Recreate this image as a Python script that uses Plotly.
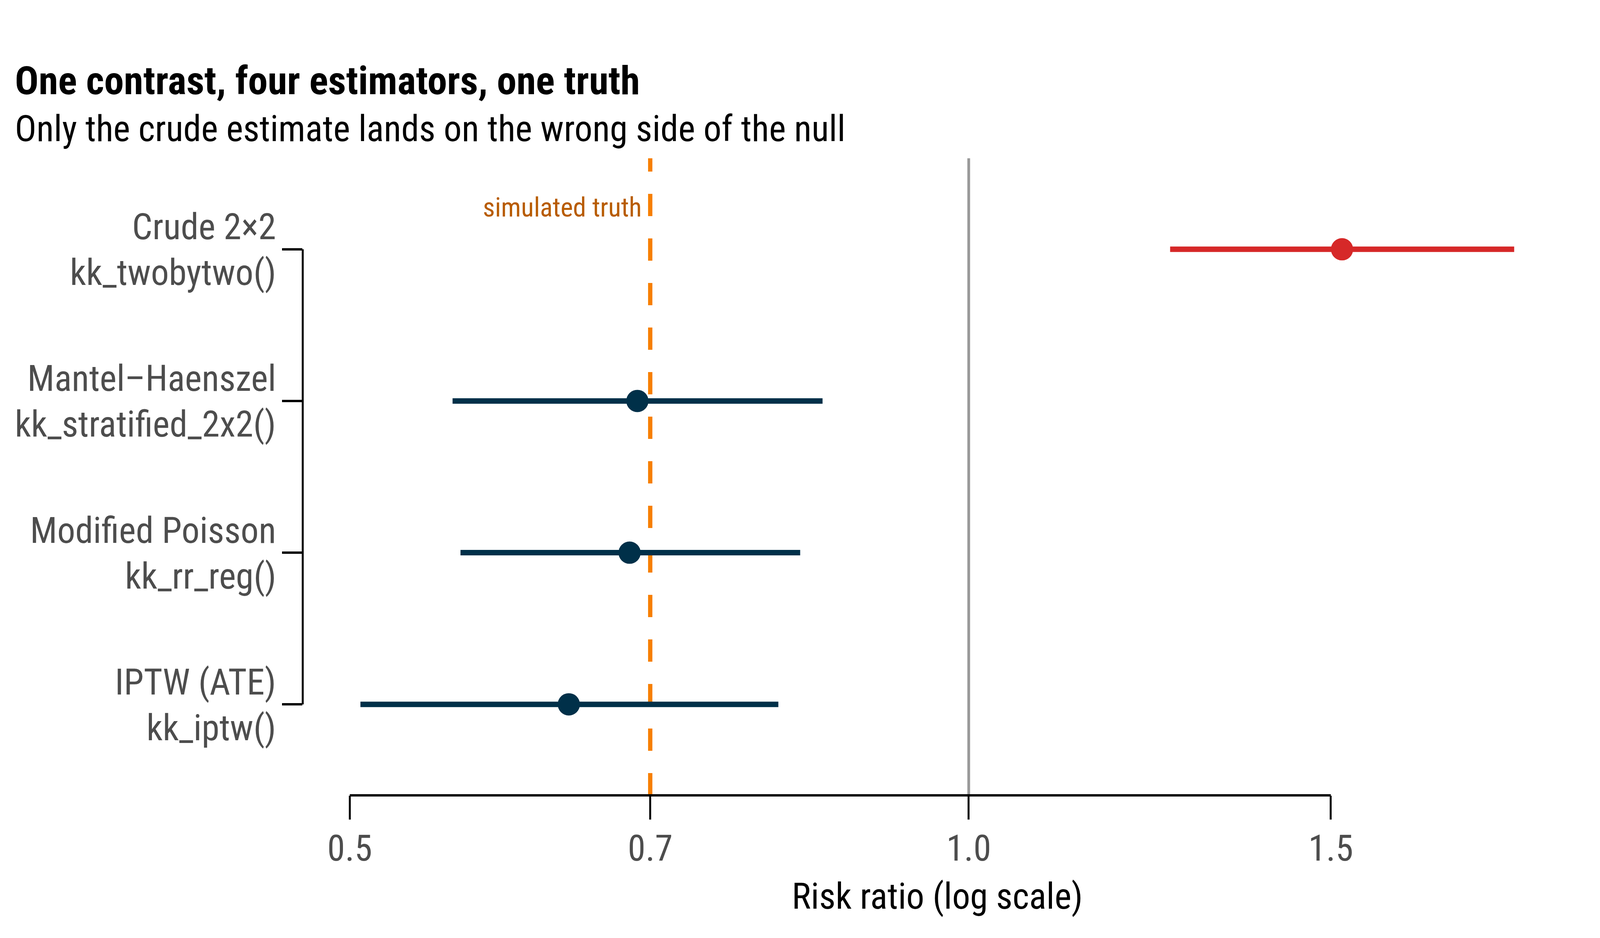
import numpy as np
import plotly.graph_objects as go

# =======================
# Dati
# =======================

estimators = ["Crude 2×2", "Mantel–Haenszel", "Modified Poisson", "IPTW (ATE)"]
functions = ["kk_twobytwo()", "kk_stratified_2x2()", "kk_rr_reg()", "kk_iptw()"]
rr = [1.519, 0.690, 0.684, 0.639]
rr_lo = [1.253, 0.561, 0.566, 0.506]
rr_hi = [1.842, 0.849, 0.828, 0.808]

truth = 0.7
null_value = 1.0
tick_vals = [0.5, 0.7, 1.0, 1.5]
tick_text = ["0.5", "0.7", "1.0", "1.5"]

# =======================
# Stile
# =======================

FONT = "Roboto Condensed, Liberation Sans Narrow, DejaVu Sans Condensed, Roboto, sans-serif"
NAVY = "#003049"
RED = "#D62828"
ORANGE = "#F77F00"
ORANGE_TEXT = "#B85C00"
GREY_TEXT = "#4D4D4D"

# la finestra reale e' larga 4096 px (e il body ha 8 px di margine)
W, H = 4088, 2392
M_L, M_R, M_T, M_B = 767, 72, 397, 365
FS = 92  # testo base

# range x su scala log con espansione del 5% (come ggplot)
lo_log = np.log10(min(rr_lo))
hi_log = np.log10(max(rr_hi))
pad = 0.05 * (hi_log - lo_log)
x_range = [lo_log - pad, hi_log + pad]

n = len(estimators)

fig = go.Figure()

for i in range(n):
    # rosso se la stima cade dal lato sbagliato del nullo
    col = RED if rr[i] > null_value else NAVY
    fig.add_trace(go.Scatter(
        x=[rr[i]],
        y=[i],
        mode="markers",
        marker=dict(size=57, color=col, line=dict(width=0)),
        error_x=dict(
            type="data",
            symmetric=False,
            array=[rr_hi[i] - rr[i]],
            arrayminus=[rr[i] - rr_lo[i]],
            width=0,
            thickness=14,
            color=col,
        ),
        showlegend=False,
        hoverinfo="skip",
    ))

# linea del nullo e verita' simulata
fig.add_shape(type="line", xref="x", yref="paper", x0=null_value, x1=null_value,
              y0=0, y1=1, line=dict(color="#999999", width=7), layer="below")
fig.add_shape(type="line", xref="x", yref="paper", x0=truth, x1=truth,
              y0=0, y1=1, line=dict(color=ORANGE, width=11, dash="57px,57px"), layer="below")

# assi "tagliati" come in ggplot
fig.add_shape(type="line", xref="x", yref="paper", x0=tick_vals[0], x1=tick_vals[-1],
              y0=0, y1=0, line=dict(color="black", width=6))
fig.add_shape(type="line", xref="paper", yref="y", x0=0, x1=0,
              y0=0, y1=n - 1, line=dict(color="black", width=5))

# etichette asse y su due righe
for i in range(n):
    fig.add_annotation(x=0, xref="paper", y=i, yref="y", text=estimators[i],
                       showarrow=False, xanchor="right", yanchor="middle",
                       xshift=-66, yshift=57,
                       font=dict(family=FONT, size=FS, color=GREY_TEXT))
    fig.add_annotation(x=0, xref="paper", y=i, yref="y", text=functions[i],
                       showarrow=False, xanchor="right", yanchor="middle",
                       xshift=-66, yshift=-60,
                       font=dict(family=FONT, size=FS, color=GREY_TEXT))

fig.add_annotation(x=np.log10(truth), xref="x", y=1, yref="paper", text="simulated truth",
                   showarrow=False, xanchor="right", yanchor="middle",
                   xshift=-20, yshift=-126,
                   font=dict(family=FONT, size=68, color=ORANGE_TEXT))

# titolo asse x
fig.add_annotation(x=0.5, xref="paper", y=0, yref="paper", text="Risk ratio (log scale)",
                   showarrow=False, xanchor="center", yanchor="middle", yshift=-258,
                   font=dict(family=FONT, size=FS, color="black"))

# titolo e sottotitolo
fig.add_annotation(x=0, xref="paper", y=1, yref="paper", text="<b>One contrast, four estimators, one truth</b>",
                   showarrow=False, xanchor="left", yanchor="middle",
                   xshift=-739, yshift=199,
                   font=dict(family=FONT, size=101, color="black"))
fig.add_annotation(x=0, xref="paper", y=1, yref="paper", text="Only the crude estimate lands on the wrong side of the null",
                   showarrow=False, xanchor="left", yanchor="middle",
                   xshift=-739, yshift=76,
                   font=dict(family=FONT, size=FS, color="black"))

fig.update_layout(
    width=W, height=H,
    margin=dict(l=M_L, r=M_R, t=M_T, b=M_B),
    plot_bgcolor="white",
    paper_bgcolor="white",
    font=dict(family=FONT, size=FS, color=GREY_TEXT),
    xaxis=dict(
        type="log",
        range=x_range,
        tickvals=tick_vals,
        ticktext=tick_text,
        ticks="outside",
        ticklen=61,
        tickwidth=5,
        tickcolor="black",
        ticklabelstandoff=-5,
        showgrid=False,
        zeroline=False,
        showline=False,
        tickfont=dict(family=FONT, size=FS, color=GREY_TEXT),
    ),
    yaxis=dict(
        range=[n - 1 + 0.6, -0.6],
        tickvals=list(range(n)),
        showticklabels=False,
        ticks="outside",
        ticklen=52,
        tickwidth=6,
        tickcolor="black",
        showgrid=False,
        zeroline=False,
        showline=False,
    ),
)

fig.write_html("out.html")
